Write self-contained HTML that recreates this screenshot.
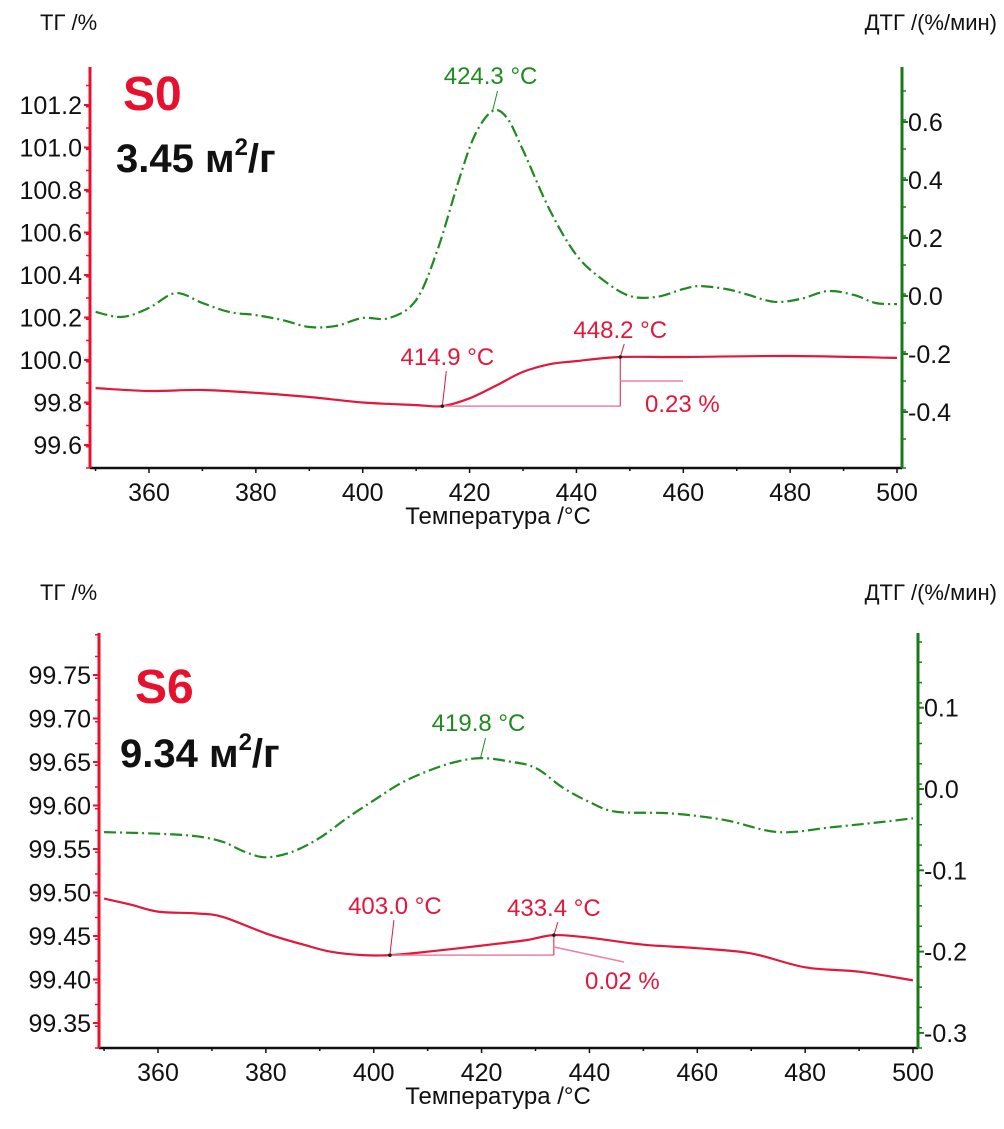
<!DOCTYPE html>
<html><head><meta charset="utf-8">
<style>
html,body{margin:0;padding:0;background:#fff;}
svg{display:block;font-family:"Liberation Sans",Arial,sans-serif;}
</style></head>
<body>
<svg id="chart" width="1004" height="1129" viewBox="0 0 1004 1129" xmlns="http://www.w3.org/2000/svg"></svg>
<script>
// ---------- Data: panel S0 ----------
const s0TgT   = [350,360,370,380,390,400,410,414.9,420,425,430,435,440,448.2,460,480,500];
const s0TgV   = [99.868,99.854,99.859,99.845,99.826,99.80,99.788,99.783,99.82,99.88,99.944,99.98,99.995,100.014,100.014,100.019,100.01];
const s0DtgT  = [350,355,360,365,370,375,380,385,390,395,400,405,410,414,418,421,424.3,427,430,435,440,445,450,455,460,463,468,472,477,482,487,492,496,500];
const s0DtgV  = [-0.055,-0.072,-0.041,0.01,-0.024,-0.055,-0.066,-0.083,-0.107,-0.103,-0.076,-0.076,-0.014,0.159,0.4,0.555,0.638,0.614,0.503,0.297,0.141,0.055,0,-0.003,0.024,0.034,0.024,0.005,-0.02,-0.01,0.017,0.003,-0.024,-0.028];
const s0LeftTicks  = [99.6,99.8,100.0,100.2,100.4,100.6,100.8,101.0,101.2];
const s0RightTicks = [-0.4,-0.2,0.0,0.2,0.4,0.6];
// ---------- Data: panel S6 ----------
const s6TgT   = [350,355,360,367,372,380,387,392,398,403,410,420,428,433.4,440,450,460,470,480,490,500];
const s6TgV   = [99.493,99.486,99.478,99.476,99.472,99.453,99.440,99.432,99.428,99.428,99.432,99.439,99.445,99.451,99.448,99.440,99.436,99.430,99.414,99.409,99.399];
const s6DtgT  = [350,360,367,372,376,380,385,390,395,400,405,410,415,419.8,425,430,435,440,445,455,465,475,485,495,500];
const s6DtgV  = [-0.053,-0.055,-0.058,-0.065,-0.077,-0.084,-0.077,-0.06,-0.036,-0.014,0.007,0.022,0.033,0.038,0.034,0.026,0.002,-0.016,-0.028,-0.03,-0.038,-0.053,-0.047,-0.04,-0.036];
const s6LeftTicks  = [99.35,99.40,99.45,99.50,99.55,99.60,99.65,99.70,99.75];
const s6RightTicks = [-0.3,-0.2,-0.1,0.0,0.1];
const xTicks = [360,380,400,420,440,460,480,500];

const NS="http://www.w3.org/2000/svg";
const svg=document.getElementById('chart');
function el(tag,attrs,parent){const e=document.createElementNS(NS,tag);for(const k in attrs)e.setAttribute(k,attrs[k]);(parent||svg).appendChild(e);return e;}
function txt(s,x,y,size,fill,anchor,weight,parent){const t=el('text',{x:x,y:y,'font-size':size,fill:fill,'text-anchor':anchor||'start','font-weight':weight||'normal'},parent);t.textContent=s;return t;}
function smooth(pts){
  let d='M'+pts[0][0].toFixed(1)+','+pts[0][1].toFixed(1);
  for(let i=0;i<pts.length-1;i++){
    const p0=pts[i-1]||pts[i],p1=pts[i],p2=pts[i+1],p3=pts[i+2]||p2;
    const c1x=p1[0]+(p2[0]-p0[0])/6,c1y=p1[1]+(p2[1]-p0[1])/6;
    const c2x=p2[0]-(p3[0]-p1[0])/6,c2y=p2[1]-(p3[1]-p1[1])/6;
    d+=' C'+c1x.toFixed(1)+','+c1y.toFixed(1)+' '+c2x.toFixed(1)+','+c2y.toFixed(1)+' '+p2[0].toFixed(1)+','+p2[1].toFixed(1);
  }
  return d;
}

function panel(cfg){
  const g=el('g',{});
  
  
  const xS=T=>cfg.x360+(T-360)*cfg.pxPerC;
  const yL=v=>cfg.yLref+(cfg.lRef-v)*cfg.lScale;
  const yR=v=>cfg.yRzero-v*cfg.rScale;
  const xa=el('line',{x1:cfg.left,y1:cfg.bottom,x2:cfg.right,y2:cfg.bottom,stroke:'#111','stroke-width':2.5},g);
  
  for(let T=350;T<=500;T+=10){el('line',{x1:xS(T),y1:cfg.bottom,x2:xS(T),y2:cfg.bottom+(T%20===0?5:3),stroke:'#111','stroke-width':1.5},g);}
  xTicks.forEach(T=>{const t=txt(String(T),xS(T),cfg.bottom+33,25,'#111','middle',null,g);});
  const xt=txt('Температура /°C',498,cfg.bottom+56,24,'#111','middle',null,g);
  
  const la=el('line',{x1:cfg.left,y1:cfg.top,x2:cfg.left,y2:cfg.bottom,stroke:'#e8112d','stroke-width':3},g);
  
  for(let y=cfg.bottom;y>=cfg.top;y-=cfg.lMinor){el('line',{x1:cfg.left-4,y1:y,x2:cfg.left,y2:y,stroke:'#e8112d','stroke-width':1.5},g);}
  cfg.lTicks.forEach(v=>{el('line',{x1:cfg.left-6,y1:yL(v),x2:cfg.left,y2:yL(v),stroke:'#e8112d','stroke-width':2},g);
    const t=txt(v.toFixed(cfg.lDec),cfg.left-8,yL(v)+9,25,'#111','end',null,g);});
  const ra=el('line',{x1:cfg.right,y1:cfg.top,x2:cfg.right,y2:cfg.bottom,stroke:'#1a7a1a','stroke-width':3},g);
  
  for(let y=cfg.bottom;y>=cfg.top;y-=cfg.rMinor){el('line',{x1:cfg.right,y1:y,x2:cfg.right+4,y2:y,stroke:'#1a7a1a','stroke-width':1.5},g);}
  cfg.rTicks.forEach(v=>{el('line',{x1:cfg.right,y1:yR(v),x2:cfg.right+6,y2:yR(v),stroke:'#1a7a1a','stroke-width':2},g);
    const t=txt(v.toFixed(1),cfg.right+6,yR(v)+9,25,'#111','start',null,g);});
  const h1=txt('ТГ /%',40,cfg.headerY,22,'#111','start',null,g);
  const h2=txt('ДТГ /(%/мин)',997,cfg.headerY,22,'#111','end',null,g);
  const sl=txt(cfg.sample,cfg.sampleX,cfg.sampleY,48,'#e8112d','start','bold',g);
  const ar=el('text',{x:cfg.areaX,y:cfg.areaY,'font-size':40,fill:'#111','font-weight':'bold'},g);
  
  ar.textContent=cfg.area+' м';
  const sup=el('tspan',{'font-size':24,dy:-17},ar);sup.textContent='2';
  const rest=el('tspan',{dy:17},ar);rest.textContent='/г';
  const dp=smooth(cfg.dtgT.map((T,i)=>[xS(T),yR(cfg.dtgV[i])]));
  const dl=el('path',{d:dp,fill:'none',stroke:'#1f8a1f','stroke-width':2.2,'stroke-dasharray':'12,4,2,4','stroke-linejoin':'round'},g);
  
  const tp=smooth(cfg.tgT.map((T,i)=>[xS(T),yL(cfg.tgV[i])]));
  const tl=el('path',{d:tp,fill:'none',stroke:'#e3173a','stroke-width':2.2,'stroke-linejoin':'round'},g);
  
  const a=cfg.ann;
  const pk=a.peakIdx, pT=cfg.dtgT[pk], pV=cfg.dtgV[pk];
  el('line',{x1:xS(pT),y1:yR(pV),x2:xS(pT)+5,y2:yR(pV)-20,stroke:'#1f8a1f','stroke-width':1},g);
  const pl=txt(pT.toFixed(1)+' °C',xS(pT)-2,yR(pV)-27,24,'#1f8a1f','middle',null,g);
  const i1=a.startIdx,i2=a.endIdx;
  const x1=xS(cfg.tgT[i1]),y1=yL(cfg.tgV[i1]),x2=xS(cfg.tgT[i2]),y2=yL(cfg.tgV[i2]);
  el('line',{x1:x1,y1:y1,x2:x2,y2:y1,stroke:'#f080a0','stroke-width':1.5},g);
  el('line',{x1:x2,y1:y1,x2:x2,y2:y2,stroke:'#e3173a','stroke-width':1},g);
  el('line',{x1:x1,y1:y1,x2:x1+4,y2:y1-35,stroke:'#e3173a','stroke-width':1},g);
  el('line',{x1:x2,y1:y2,x2:x2+4,y2:y2-13,stroke:'#e3173a','stroke-width':1},g);
  el('circle',{cx:x1,cy:y1,r:1.8,fill:'#222'},g);el('circle',{cx:x2,cy:y2,r:1.8,fill:'#222'},g);
  el('line',{x1:x2,y1:a.stepLineY,x2:a.stepLineX2,y2:a.stepLineY2,stroke:'#f080a0','stroke-width':1.5},g);
  const l1=txt(cfg.tgT[i1].toFixed(1)+' °C',x1+5,y1-41,24,'#e3173a','middle',null,g);
  const l2=txt(cfg.tgT[i2].toFixed(1)+' °C',x2,y2-19,24,'#e3173a','middle',null,g);
  const l3=txt(a.step,a.stepX,a.stepY,24,'#e3173a','start',null,g);
}

panel({name:'panel-s0',left:90,right:902,top:67,bottom:468,x360:149,pxPerC:5.343,
  yLref:360,lRef:100.0,lScale:212.5,lTicks:s0LeftTicks,lDec:1,lMinor:21.25,
  yRzero:296,rScale:290,rTicks:s0RightTicks,rMinor:29,
  tgT:s0TgT,tgV:s0TgV,dtgT:s0DtgT,dtgV:s0DtgV,headerY:30,
  sample:'S0',sampleX:123,sampleY:110,area:'3.45',areaX:116,areaY:172,
  ann:{peakIdx:16,startIdx:7,endIdx:13,step:'0.23 %',stepX:645,stepY:412,stepLineY:381,stepLineX2:683,stepLineY2:381}});

panel({name:'panel-s6',left:99,right:918,top:633,bottom:1048,x360:158,pxPerC:5.393,
  yLref:675,lRef:99.75,lScale:870,lTicks:s6LeftTicks,lDec:2,lMinor:21.75,
  yRzero:789,rScale:813,rTicks:s6RightTicks,rMinor:20.3,
  tgT:s6TgT,tgV:s6TgV,dtgT:s6DtgT,dtgV:s6DtgV,headerY:600,
  sample:'S6',sampleX:135,sampleY:703,area:'9.34',areaX:120,areaY:767,
  ann:{peakIdx:13,startIdx:9,endIdx:13,step:'0.02 %',stepX:585,stepY:989,stepLineY:947,stepLineX2:624,stepLineY2:962}});
</script>
</body></html>
